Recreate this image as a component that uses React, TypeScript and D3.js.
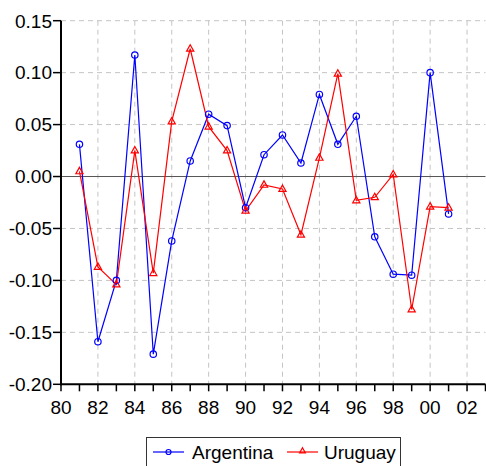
import React from "react";
import * as d3 from "d3";

// Annual values, 1981–2001
const years = [1981, 1982, 1983, 1984, 1985, 1986, 1987, 1988, 1989, 1990, 1991, 1992, 1993, 1994, 1995, 1996, 1997, 1998, 1999, 2000, 2001];
const argentina = [0.031, -0.159, -0.1, 0.117, -0.171, -0.062, 0.015, 0.06, 0.049, -0.03, 0.021, 0.04, 0.013, 0.079, 0.031, 0.058, -0.058, -0.094, -0.095, 0.1, -0.036];
const uruguay = [0.005, -0.087, -0.104, 0.025, -0.093, 0.053, 0.123, 0.048, 0.025, -0.033, -0.008, -0.012, -0.056, 0.018, 0.099, -0.023, -0.02, 0.002, -0.128, -0.029, -0.03];
const xTickYears = [1980, 1982, 1984, 1986, 1988, 1990, 1992, 1994, 1996, 1998, 2000, 2002];
const yTickValues = [-0.2, -0.15, -0.1, -0.05, 0, 0.05, 0.1, 0.15];
const seriesNames = ["Argentina", "Uruguay"];

const W = 486;
const H = 466;
const FONT = "'Liberation Sans', Arial, sans-serif";
const BLUE = "#0000ff";
const RED = "#ff0000";

export default function App() {
  const x = d3.scaleLinear().domain([1980, 2003]).range([61, 485.5]);
  const y = d3.scaleLinear().domain([-0.2, 0.15]).range([384.3, 20.7]);
  const line = d3
    .line<number>()
    .x((_, i) => x(years[i]))
    .y((d) => y(d));
  const minorYears = d3.range(1980, 2004);
  const fmtY = (v: number) => {
    const s = Math.abs(v).toFixed(2);
    return v < -1e-9 ? "-" + s : s;
  };
  const fmtX = (yr: number) => String(yr % 100).padStart(2, "0");
  const tri = (cx: number, cy: number, r: number) =>
    `M${cx},${cy - r}L${cx + r * 0.9},${cy + r * 0.6}L${cx - r * 0.9},${cy + r * 0.6}Z`;

  const left = x.range()[0];
  const right = x.range()[1];
  const top = y.range()[1];
  const bottom = y.range()[0];

  return (
    <svg width={W} height={H} style={{ position: "absolute", left: 0, top: 0, background: "#fff" }}>
      {/* grid */}
      {xTickYears.slice(1).map((yr) => (
        <line key={"gx" + yr} x1={x(yr)} x2={x(yr)} y1={top} y2={bottom} stroke="#c4c4c4" strokeWidth={1} strokeDasharray="5,4" />
      ))}
      {yTickValues.filter((v) => v !== 0 && v !== -0.2).map((v) => (
        <line key={"gy" + v} x1={left} x2={right} y1={y(v)} y2={y(v)} stroke="#c4c4c4" strokeWidth={1} strokeDasharray="5,4" />
      ))}
      <line x1={left} x2={right} y1={y(0)} y2={y(0)} stroke="#555" strokeWidth={1} />

      {/* series */}
      <path d={line(argentina) || ""} fill="none" stroke={BLUE} strokeWidth={1.2} />
      <path d={line(uruguay) || ""} fill="none" stroke={RED} strokeWidth={1.2} />
      {argentina.map((v, i) => (
        <circle key={"a" + i} cx={x(years[i])} cy={y(v)} r={3.2} fill="none" stroke={BLUE} strokeWidth={1.2} />
      ))}
      {uruguay.map((v, i) => (
        <path key={"u" + i} d={tri(x(years[i]), y(v), 4)} fill="none" stroke={RED} strokeWidth={1.2} />
      ))}

      {/* axes */}
      <line x1={left} x2={left} y1={top} y2={bottom + 1} stroke="#000" strokeWidth={2} />
      <line x1={left - 1} x2={right} y1={bottom} y2={bottom} stroke="#000" strokeWidth={2} />
      {yTickValues.map((v) => (
        <g key={"yt" + v}>
          <line x1={left - 8} x2={left} y1={y(v)} y2={y(v)} stroke="#000" strokeWidth={1.5} />
          <text x={52} y={y(v)} dy="0.36em" textAnchor="end" fontFamily={FONT} fontSize={19} fill="#000">
            {fmtY(v)}
          </text>
        </g>
      ))}
      {minorYears.map((yr) => (
        <line key={"xt" + yr} x1={x(yr)} x2={x(yr)} y1={bottom} y2={bottom + 7} stroke="#000" strokeWidth={1.5} />
      ))}
      {xTickYears.map((yr) => (
        <text key={"xl" + yr} x={x(yr)} y={414} textAnchor="middle" fontFamily={FONT} fontSize={19} fill="#000">
          {fmtX(yr)}
        </text>
      ))}

      {/* legend */}
      <rect x={146.5} y={437.5} width={254} height={40} fill="#fff" stroke="#333" strokeWidth={1} />
      <line x1={153} x2={184} y1={452} y2={452} stroke={BLUE} strokeWidth={1.2} />
      <circle cx={168.5} cy={452} r={2.5} fill="none" stroke={BLUE} strokeWidth={1.2} />
      <text x={192} y={459} fontFamily={FONT} fontSize={19} fill="#000">
        {seriesNames[0]}
      </text>
      <line x1={287} x2={318} y1={452} y2={452} stroke={RED} strokeWidth={1.2} />
      <path d={tri(302.5, 451, 3.2)} fill="none" stroke={RED} strokeWidth={1.2} />
      <text x={324} y={459} fontFamily={FONT} fontSize={19} fill="#000">
        {seriesNames[1]}
      </text>
    </svg>
  );
}
